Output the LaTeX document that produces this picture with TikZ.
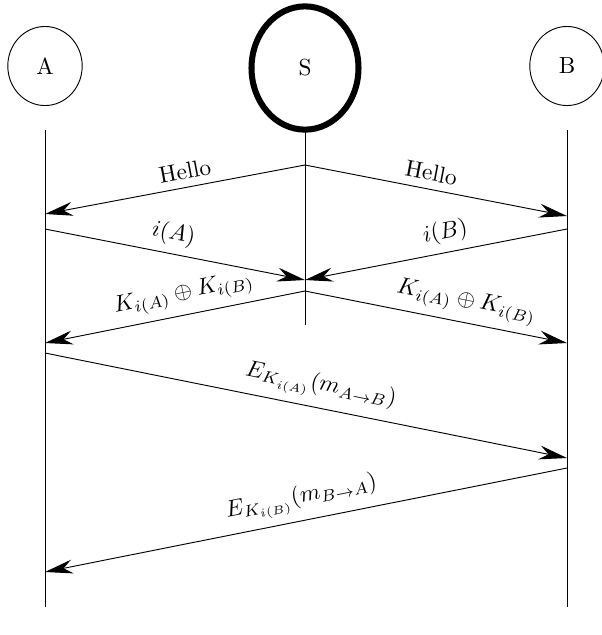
\documentclass[tikz,border=0pt]{standalone}
\usetikzlibrary{arrows.meta,shapes.geometric}

\tikzset{
	party/.style={draw, ellipse, minimum width=32pt, minimum height=34pt, inner sep=0pt},
	msg/.style={-{Stealth[length=12pt,width=6pt]}},
	life/.style={thin}
}

\begin{document}
\begin{tikzpicture}[x=0.43pt, y=-0.43pt]
	\useasboundingbox (0,0) rectangle (602,635);

	\node [party] (A) at (45,66) {A};
	\node [party, line width=2.6pt, minimum width=46pt, minimum height=53pt] (S) at (305,68) {S};
	\node [party] (B) at (567,66) {B};

	\draw [life] (45,130) -- (45,607);
	\draw [life] (305,130) -- (305,325);
	\draw [life] (567,130) -- (567,607);

	\coordinate (S1) at (305,165);
	\coordinate (A1) at (45,214);
	\coordinate (B1) at (567,216);
	\draw [msg] (S1) -- (A1) node [pos=0.45, above, sloped] {Hello};
	\draw [msg] (S1) -- (B1) node [pos=0.47, above, sloped] {Hello};

	\coordinate (A2) at (45,229);
	\coordinate (B2) at (567,229);
	\coordinate (S2) at (305,280);
	\draw [msg] (A2) -- (S2) node [pos=0.48, above, sloped] {$i(A)$};
	\draw [msg] (B2) -- (S2) node [pos=0.45, above, sloped] {$i(B)$};

	\coordinate (S3) at (305,291);
	\coordinate (A3) at (45,343);
	\coordinate (B3) at (567,343);
	\draw [msg] (S3) -- (A3) node [pos=0.45, above, sloped] {$K_{i(A)} \oplus K_{i(B)}$};
	\draw [msg] (S3) -- (B3) node [pos=0.6, above, sloped] {$K_{i(A)} \oplus K_{i(B)}$};

	\coordinate (A4) at (45,353);
	\coordinate (B4) at (567,458);
	\draw [msg] (A4) -- (B4) node [pos=0.52, above, sloped] {$E_{K_{i(A)}}(m_{A\rightarrow B})$};

	\coordinate (B5) at (567,468);
	\coordinate (A5) at (45,572);
	\draw [msg] (B5) -- (A5) node [midway, above, sloped] {$E_{K_{i(B)}}(m_{B\rightarrow A})$};
\end{tikzpicture}
\end{document}
